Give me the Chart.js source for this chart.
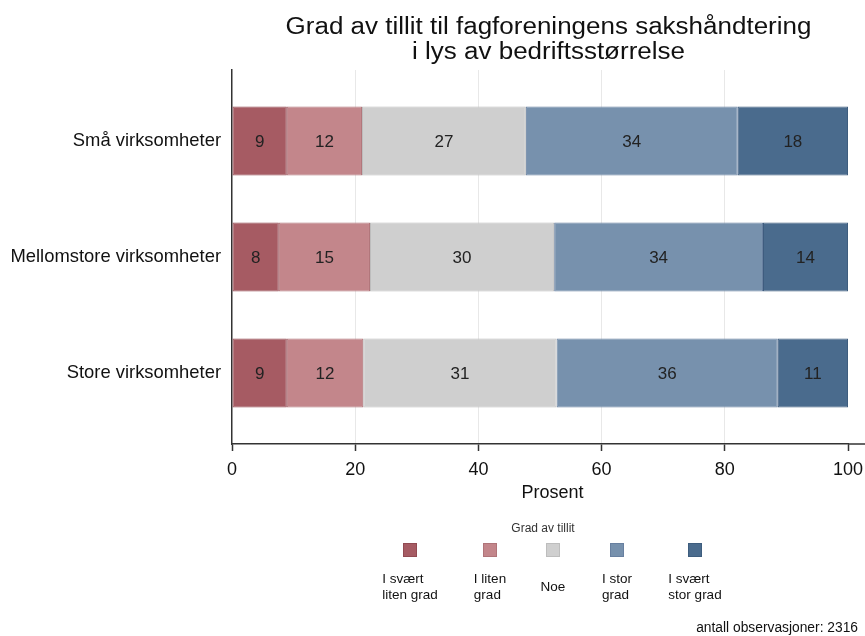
<!DOCTYPE html>
<html><head><meta charset="utf-8">
<script src="https://cdn.jsdelivr.net/npm/chart.js@4"></script>
<style>html,body{margin:0;padding:0;background:#fff}#wrap{width:865px;height:636px}</style>
</head><body><div id="wrap"><canvas id="c" width="865" height="636"></canvas></div>
<script>
const categories = ['Små virksomheter', 'Mellomstore virksomheter', 'Store virksomheter'];
const seriesNames = ['I svært\nliten grad', 'I liten\ngrad', 'Noe', 'I stor\ngrad', 'I svært\nstor grad'];
const sveartLiten = [8.9, 7.6, 8.9];
const liten = [12.2, 14.8, 12.4];
const noe = [26.6, 29.9, 31.4];
const stor = [34.4, 33.9, 35.9];
const sveartStor = [17.9, 13.8, 11.4];
const xTicks = [0, 20, 40, 60, 80, 100];
const titleLines = ['Grad av tillit til fagforeningens sakshåndtering', 'i lys av bedriftsstørrelse'];
const legendTitle = 'Grad av tillit';
const footnote = 'antall observasjoner: 2316';
const xTitle = 'Prosent';

const fills = ['#a65b63', '#c3868b', '#cfcfcf', '#7791ad', '#4a6b8d'];
const borders = ['#924a52', '#b07479', '#bdbdbd', '#6880a0', '#3e5d7e'];
const FONT = '"Liberation Sans", Arial, sans-serif';
const seriesVals = [sveartLiten, liten, noe, stor, sveartStor];

const datasets = seriesVals.map((vals, k) => ({
  label: seriesNames[k].replace('\n', ' '),
  data: vals.map((v, i) => ({x: v, y: i})),
  backgroundColor: fills[k],
  borderColor: borders[k],
  borderWidth: 1,
  borderSkipped: false,
  categoryPercentage: 1,
  barPercentage: 0.595
}));

function stretchedText(ctx, text, x, y, sx) {
  ctx.save();
  ctx.translate(x, y);
  ctx.scale(sx, 1);
  ctx.fillText(text, 0, 0);
  ctx.restore();
}

const deco = {
  id: 'deco',
  afterDatasetsDraw(chart) {
    const ctx = chart.ctx;
    ctx.save();
    ctx.fillStyle = '#222';
    ctx.font = '17px ' + FONT;
    ctx.textAlign = 'center';
    ctx.textBaseline = 'middle';
    chart.data.datasets.forEach((ds, k) => {
      const meta = chart.getDatasetMeta(k);
      meta.data.forEach((el, i) => {
        const p = el.getProps(['x', 'y', 'base'], true);
        ctx.fillText(String(Math.round(ds.data[i].x)), (p.x + p.base) / 2, p.y + 1);
      });
    });
    ctx.restore();
  },
  afterDraw(chart) {
    const ctx = chart.ctx;
    const a = chart.chartArea;
    ctx.save();
    // extend x axis line to the right edge
    ctx.strokeStyle = '#333';
    ctx.lineWidth = 1.5;
    ctx.beginPath();
    ctx.moveTo(a.right, a.bottom);
    ctx.lineTo(chart.width, a.bottom);
    ctx.stroke();
    const cx = (a.left + chart.width) / 2;
    // title
    ctx.fillStyle = '#111';
    ctx.textAlign = 'center';
    ctx.textBaseline = 'alphabetic';
    ctx.font = '23px ' + FONT;
    stretchedText(ctx, titleLines[0], cx, 34, 1.13);
    stretchedText(ctx, titleLines[1], cx, 59, 1.13);
    // x title
    ctx.font = '18px ' + FONT;
    ctx.fillText(xTitle, cx + 4, 498);
    // legend
    ctx.fillStyle = '#333';
    ctx.font = '12px ' + FONT;
    ctx.fillText(legendTitle, 543, 532);
    const centers = [410, 490, 553, 617, 695];
    ctx.font = '13.5px ' + FONT;
    chart.data.datasets.forEach((ds, k) => {
      const c = centers[k];
      ctx.fillStyle = ds.backgroundColor;
      ctx.strokeStyle = ds.borderColor;
      ctx.lineWidth = 1;
      ctx.fillRect(c - 6.5, 543.5, 13, 13);
      ctx.strokeRect(c - 6.5, 543.5, 13, 13);
      const lines = seriesNames[k].split('\n');
      const w = Math.max(...lines.map(l => ctx.measureText(l).width));
      ctx.fillStyle = '#111';
      ctx.textAlign = 'left';
      ctx.textBaseline = 'middle';
      if (lines.length === 1) {
        ctx.fillText(lines[0], c - w / 2, 587);
      } else {
        lines.forEach((l, j) => ctx.fillText(l, c - w / 2, 579 + j * 16));
      }
    });
    // footnote
    ctx.textAlign = 'right';
    ctx.textBaseline = 'alphabetic';
    ctx.font = '13.8px ' + FONT;
    ctx.fillText(footnote, 858, 632);
    ctx.restore();
  }
};

new Chart(document.getElementById('c'), {
  type: 'bar',
  data: { datasets },
  plugins: [deco],
  options: {
    indexAxis: 'y',
    responsive: false,
    animation: false,
    layout: { padding: { left: 0, right: 17, top: 70, bottom: 0 } },
    plugins: { legend: { display: false }, tooltip: { enabled: false }, title: { display: false } },
    scales: {
      x: {
        type: 'linear',
        stacked: true,
        min: 0, max: 100,
        afterBuildTicks: s => { s.ticks = xTicks.map(v => ({value: v})); },
        afterFit: s => { s.height = 192; s.paddingLeft = 0; s.paddingRight = 0; },
        grid: {
          color: c => (c.tick && c.tick.value > 0 && c.tick.value < 100) ? '#e8e8e8' : 'rgba(0,0,0,0)',
          tickColor: '#333',
          tickLength: 7,
          lineWidth: 1,
          tickWidth: 1.5
        },
        border: { color: '#333', width: 1.5 },
        ticks: { color: '#111', font: { family: FONT, size: 18 }, padding: 8, maxRotation: 0 }
      },
      y: {
        type: 'linear',
        stacked: true,
        reverse: true,
        offset: false,
        min: -0.612, max: 2.612,
        afterBuildTicks: s => { s.ticks = categories.map((c, i) => ({value: i})); },
        afterFit: s => { s.width = 232; s.paddingTop = 0; s.paddingBottom = 0; },
        grid: { display: false, drawTicks: false, offset: false },
        border: { color: '#333', width: 1.5 },
        ticks: { color: '#111', font: { family: FONT, size: 18.4 }, padding: 11, callback: v => categories[v] }
      }
    }
  }
});
</script></body></html>
